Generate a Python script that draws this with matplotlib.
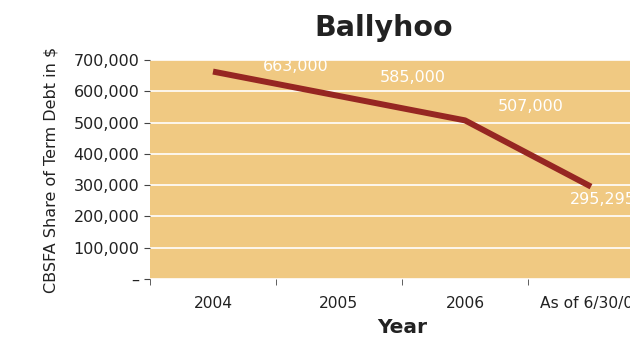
import matplotlib.pyplot as plt
from matplotlib.ticker import FuncFormatter

years = ["2004", "2005", "2006", "As of 6/30/07"]
debt_share = [663000, 585000, 507000, 295295]
# label offsets in pixels (dx, dy) from each point
label_offsets = [(83, 5), (74, 18), (66, 14), (12, -13)]

fig = plt.figure(figsize=(6.30, 3.37), dpi=100)
ax = fig.add_axes([150 / 630, 58 / 337, 504 / 630, 219 / 337])
ax.set_facecolor("#F0C982")

x = list(range(len(years)))
ax.plot(x, debt_share, color="#962622", linewidth=4.3, solid_capstyle="butt", zorder=3)

for xi, val, (dx, dy) in zip(x, debt_share, label_offsets):
    ax.annotate(f"{val:,}", (xi, val), xytext=(dx, dy), textcoords="offset pixels",
                ha="center", va="center", color="white", fontsize=11.5,
                annotation_clip=False, zorder=4)

ax.set_xlim(-0.5, len(years) - 0.5)
ax.set_ylim(0, 700000)
ax.set_yticks(range(0, 700001, 100000))
ax.yaxis.set_major_formatter(FuncFormatter(lambda v, p: "–" if v == 0 else f"{int(v):,}"))
ax.grid(axis="y", color="white", linewidth=1.2, zorder=1)
ax.set_axisbelow(True)

ax.set_xticks(x)
ax.set_xticklabels(years)
ax.set_xticks([i - 0.5 for i in range(len(years) + 1)], minor=True)
ax.tick_params(axis="x", which="major", length=0, pad=12, labelsize=11.2, labelcolor="#222222")
ax.tick_params(axis="x", which="minor", length=4, color="#444444", direction="out")
ax.tick_params(axis="y", length=4, color="#444444", labelsize=11.5, labelcolor="#222222")

for side in ["top", "right", "left", "bottom"]:
    ax.spines[side].set_visible(False)

ax.set_xlabel("Year", fontsize=14.5, fontweight="bold", color="#222222", labelpad=5.5)
ax.set_ylabel("CBSFA Share of Term Debt in $", fontsize=11.5, color="#222222", labelpad=11)
fig.text(384 / 630, 1 - 28 / 337, "Ballyhoo", ha="center", va="center",
         fontsize=20.5, fontweight="bold", color="#222222")

fig.savefig("out.png", dpi=100)
